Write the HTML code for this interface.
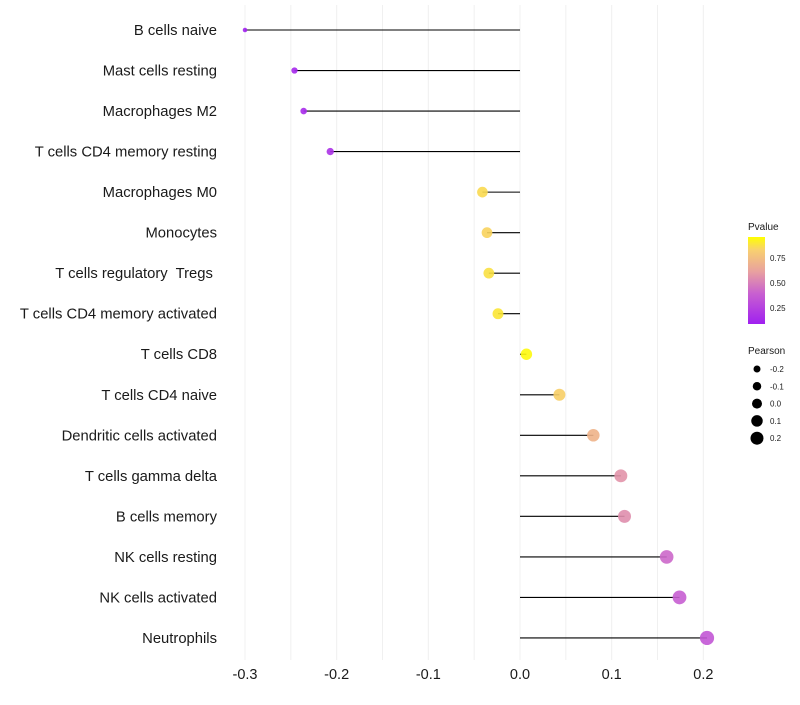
<!DOCTYPE html>
<html><head><meta charset="utf-8"><style>
body{margin:0;background:#fff;font-family:"Liberation Sans",sans-serif}
text{white-space:pre}
</style></head><body>
<svg id="chart" width="800" height="700" xmlns="http://www.w3.org/2000/svg" font-family="Liberation Sans, sans-serif">
<defs><linearGradient id="pg" x1="0" y1="1" x2="0" y2="0">
<stop offset="0" stop-color="#a020f0"/><stop offset="0.35" stop-color="#c860d0"/><stop offset="0.6" stop-color="#e8a0a0"/><stop offset="0.85" stop-color="#f8d070"/><stop offset="1" stop-color="#ffff00"/></linearGradient></defs>
<g id="grid"></g><g id="marks"></g><g id="labels"></g><g id="legend"></g>
</svg>
<script>
const categories=["B cells naive","Mast cells resting","Macrophages M2","T cells CD4 memory resting","Macrophages M0","Monocytes","T cells regulatory  Tregs ","T cells CD4 memory activated","T cells CD8","T cells CD4 naive","Dendritic cells activated","T cells gamma delta","B cells memory","NK cells resting","NK cells activated","Neutrophils"];
const pearson=[-0.300,-0.246,-0.236,-0.207,-0.041,-0.036,-0.034,-0.024,0.007,0.043,0.080,0.110,0.114,0.160,0.174,0.204];
const pvalues=[0.01,0.04,0.06,0.10,0.88,0.86,0.90,0.92,0.98,0.84,0.70,0.55,0.53,0.38,0.34,0.30];
const xTicks=[-0.3,-0.2,-0.1,0.0,0.1,0.2];
const pTicks=[0.25,0.50,0.75];
const sizeTicks=[-0.2,-0.1,0.0,0.1,0.2];
const NS="http://www.w3.org/2000/svg";
const x=v=>520+(v)*916.7;
const y=i=>30+i*40.53;
const rad=v=>Math.sqrt(5+(v+0.3)*90);
function col(p){const st=[[0,[160,32,240]],[0.35,[200,96,208]],[0.6,[232,160,160]],[0.85,[248,208,100]],[1,[255,255,0]]];
for(let k=1;k<st.length;k++){if(p<=st[k][0]){const t=(p-st[k-1][0])/(st[k][0]-st[k-1][0]);const a=st[k-1][1],b=st[k][1];return `rgb(${a.map((c,j)=>Math.round(c+(b[j]-c)*t)).join(',')})`;}}return 'rgb(255,255,0)';}
function mk(t,a,p){const e=document.createElementNS(NS,t);for(const k in a)e.setAttribute(k,a[k]);p.appendChild(e);return e;}
const grid=document.getElementById('grid'),marks=document.getElementById('marks'),labels=document.getElementById('labels'),legend=document.getElementById('legend');
for(let v=-0.3;v<=0.2001;v+=0.05){const l=mk('line',{x1:x(v),x2:x(v),y1:5,y2:660,stroke:'#f0f0f0','stroke-width':1},grid);

}
xTicks.forEach(v=>{const t=mk('text',{x:x(v),y:679,'text-anchor':'middle','font-size':14.5,fill:'#1a1a1a'},labels);t.textContent=v.toFixed(1);

});
categories.forEach((c,i)=>{
const t=mk('text',{x:217,y:y(i)+5,'text-anchor':'end','font-size':14.8,fill:'#1a1a1a'},labels);t.textContent=c;


const l=mk('line',{x1:x(0),x2:x(pearson[i]),y1:y(i),y2:y(i),stroke:'#000','stroke-width':1.1},marks);


const d=mk('circle',{cx:x(pearson[i]),cy:y(i),r:rad(pearson[i]),fill:col(pvalues[i]),'fill-opacity':0.9},marks);


});
let t=mk('text',{x:748,y:230,'font-size':10,fill:'#1a1a1a'},legend);t.textContent='Pvalue';


const bar=mk('rect',{x:748,y:237,width:17,height:87,fill:'url(#pg)'},legend);


const py=p=>323-(p-0.1)*(86/0.86);
pTicks.forEach(p=>{const tt=mk('text',{x:770,y:py(p)+3,'font-size':8,fill:'#1a1a1a'},legend);tt.textContent=p.toFixed(2);

});
t=mk('text',{x:748,y:354,'font-size':10,fill:'#1a1a1a'},legend);t.textContent='Pearson';


sizeTicks.forEach((v,k)=>{const cy=369+k*17.3;
const c=mk('circle',{cx:757,cy:cy,r:3.5+(v+0.2)*7.5,fill:'#000'},legend);


const tt=mk('text',{x:770,y:cy+3,'font-size':8,fill:'#1a1a1a'},legend);tt.textContent=v.toFixed(1);

});
</script>
</body></html>
